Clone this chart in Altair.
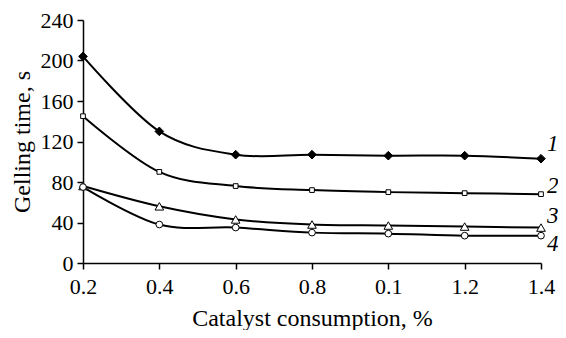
import altair as alt
import pandas as pd

x_labels = ["0.2", "0.4", "0.6", "0.8", "0.1", "1.2", "1.4"]
series_names = ["1", "2", "3", "4"]
series1 = [204, 130, 107, 107, 106, 106, 103]
series2 = [145, 90, 76, 72, 70, 69, 68]
series3 = [76, 56, 43, 38, 37, 36, 35]
series4 = [75, 38, 35, 30, 29, 27, 27]
y_ticks = [0, 40, 80, 120, 160, 200, 240]

rows = []
for name, vals in zip(series_names, [series1, series2, series3, series4]):
    for i, (xl, v) in enumerate(zip(x_labels, vals)):
        rows.append({"series": name, "x": xl, "order": i, "y": v})
df = pd.DataFrame(rows)

FONT = "'Liberation Serif', 'Times New Roman', Times, serif"
xenc = alt.X("x:O", sort=x_labels, scale=alt.Scale(type="point", padding=0),
             axis=alt.Axis(title="Catalyst consumption, %", labelAngle=0, labelPadding=7,
                           titlePadding=9))
yenc = alt.Y("y:Q", scale=alt.Scale(domain=[0, 240], nice=False),
             axis=alt.Axis(title="Gelling time, s", values=y_ticks, titlePadding=6, labelPadding=4))

lines = alt.Chart(df).mark_line(interpolate="cardinal", color="black", strokeWidth=2).encode(
    x=xenc, y=yenc, detail="series:N", order="order:Q")

marker_style = {
    "1": dict(shape="diamond", fill="black", size=75),
    "2": dict(shape="square", fill="white", size=22),
    "3": dict(shape="triangle-up", fill="white", size=75),
    "4": dict(shape="circle", fill="white", size=45),
}
label_dy = {"1": -15, "2": -8, "3": -12, "4": 8}

layers = [lines]
for name in series_names:
    sub = df[df["series"] == name]
    st = marker_style[name]
    layers.append(alt.Chart(sub).mark_point(
        shape=st["shape"], fill=st["fill"], size=st["size"], filled=True,
        stroke="black", strokeWidth=1, opacity=1, fillOpacity=1).encode(x=xenc, y=yenc))
for name in series_names:
    sub = df[(df["series"] == name) & (df["x"] == x_labels[-1])]
    layers.append(alt.Chart(sub).mark_text(
        font=FONT, fontSize=23, fontStyle="italic", align="left", baseline="middle",
        dx=6, dy=label_dy[name], color="black").encode(x=xenc, y=yenc, text="series:N"))

chart = alt.layer(*layers).properties(
    width=458, height=243,
    autosize=alt.AutoSizeParams(type="none"),
    padding={"left": 75, "top": 12, "right": 17, "bottom": 67},
).configure_view(stroke=None).configure_axis(
    grid=False, labelFont=FONT, titleFont=FONT, labelFontSize=22, titleFontSize=24,
    titleFontWeight="normal", labelColor="black", titleColor="black",
    domainColor="black", tickColor="black", domainWidth=1.5, tickWidth=1.5, tickSize=6,
)

chart.save("out.html", embed_options={"renderer": "svg", "actions": False})
